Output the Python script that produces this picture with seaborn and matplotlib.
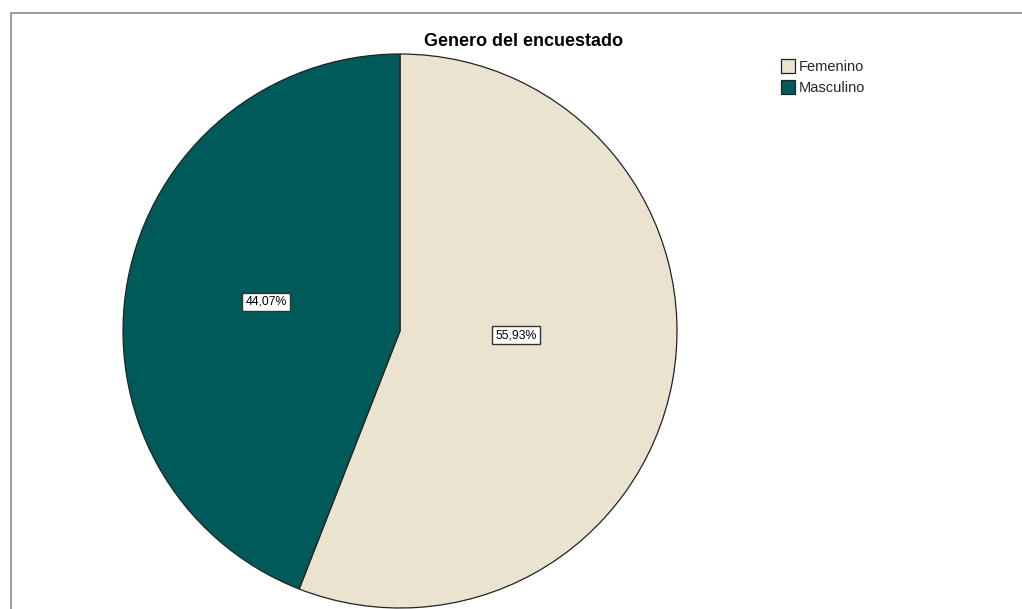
import matplotlib
matplotlib.use("Agg")
import matplotlib.pyplot as plt
import seaborn as sns
from matplotlib.patches import Rectangle

# datos
categorias = ["Femenino", "Masculino"]
porcentajes = [55.93, 44.07]
etiquetas = ["55,93%", "44,07%"]
colores = sns.color_palette(["#EAE3D0", "#005A5A"])

sns.set_theme(style="white")
plt.rcParams['font.family'] = ['Liberation Sans', 'DejaVu Sans']

fig = plt.figure(figsize=(10.22, 6.09), dpi=100)
ax = fig.add_axes([0, 0, 1, 1])

# marco gris del gráfico (estilo SPSS)
fig.add_artist(Rectangle((11 / 1022, -0.1), 1.2, (609 - 13) / 609 + 0.1,
                         transform=fig.transFigure, fill=False,
                         edgecolor="#8a8a8a", linewidth=1.2))

wedges, _ = ax.pie(porcentajes, colors=colores, startangle=90, counterclock=False,
                   center=(400, 278), radius=277, frame=True,
                   wedgeprops=dict(edgecolor="#222222", linewidth=0.9))
ax.set_xlim(0, 1022)
ax.set_ylim(0, 609)
ax.set_aspect("equal")
ax.axis("off")

# etiquetas de porcentaje con caja
pos = [(516, 274), (266, 307)]
for (x, y), t in zip(pos, etiquetas):
    ax.text(x, y, t, ha="center", va="center", fontsize=8.8, color="black",
            bbox=dict(boxstyle="square,pad=0.25", facecolor="white",
                      edgecolor="#333333", linewidth=1.0))

ax.text(523, 567, "Genero del encuestado", ha="center", va="center",
        fontsize=13, fontweight="bold", color="black")

leg = fig.legend(wedges, categorias, loc="upper left", bbox_to_anchor=(781 / 1022, 1 - 59 / 609),
                 frameon=False, fontsize=10.5, handlelength=0.95, handleheight=1.05,
                 handletextpad=0.3, labelspacing=0.45, borderaxespad=0, borderpad=0)

fig.savefig("out.png", dpi=100)
